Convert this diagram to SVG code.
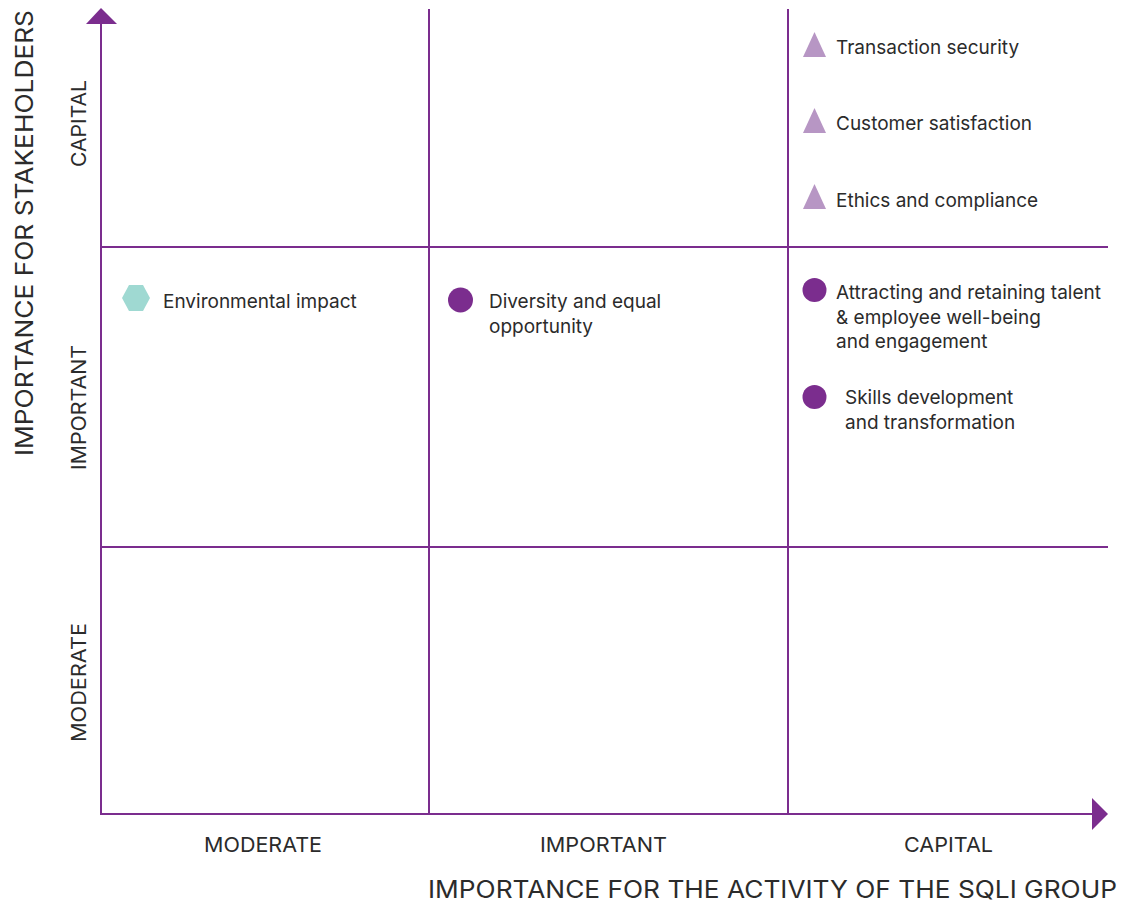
<svg xmlns="http://www.w3.org/2000/svg" width="1122" height="905" viewBox="0 0 1122 905">
<style>
.ax{stroke:#7B2D8E;stroke-width:2;fill:none}
.ah{fill:#7B2D8E}
.lbl{font-family:Inter,"Liberation Sans",sans-serif;font-size:19px;fill:#2b2b2b}
.cat{font-family:Inter,"Liberation Sans",sans-serif;font-size:20px;fill:#2b2b2b}
.ttl{font-family:Inter,"Liberation Sans",sans-serif;font-size:24px;fill:#2b2b2b}
.tri{fill:#B796C4}
.dot{fill:#7B2D8E}
.hex{fill:#9FD9D2}
</style>
<rect width="1122" height="905" fill="#ffffff"/>
<g id="connectors">
<line class="ax" x1="101" y1="815" x2="101" y2="22"/>
<line class="ax" x1="100" y1="814" x2="1094" y2="814"/>
<polygon class="ah" points="101,8 117,24 86,24"/>
<polygon class="ah" points="1108,814 1092,798 1092,830"/>
<line class="ax" x1="429" y1="9" x2="429" y2="814"/>
<line class="ax" x1="788" y1="9" x2="788" y2="814"/>
<line class="ax" x1="101" y1="247" x2="1108" y2="247"/>
<line class="ax" x1="101" y1="547" x2="1108" y2="547"/>
</g>
<g id="axis-labels">
<text class="cat" x="204" y="852" textLength="118" lengthAdjust="spacingAndGlyphs">MODERATE</text>
<text class="cat" x="540" y="852" textLength="127" lengthAdjust="spacingAndGlyphs">IMPORTANT</text>
<text class="cat" x="904" y="852" textLength="89" lengthAdjust="spacingAndGlyphs">CAPITAL</text>
<text class="cat" transform="translate(86,167) rotate(-90)" textLength="87" lengthAdjust="spacingAndGlyphs">CAPITAL</text>
<text class="cat" transform="translate(86,470) rotate(-90)" textLength="125" lengthAdjust="spacingAndGlyphs">IMPORTANT</text>
<text class="cat" transform="translate(86,742) rotate(-90)" textLength="119" lengthAdjust="spacingAndGlyphs">MODERATE</text>
<text class="ttl" x="428" y="898" textLength="689" lengthAdjust="spacingAndGlyphs">IMPORTANCE FOR THE ACTIVITY OF THE SQLI GROUP</text>
<text class="ttl" transform="translate(33,456) rotate(-90)" textLength="446" lengthAdjust="spacingAndGlyphs">IMPORTANCE FOR STAKEHOLDERS</text>
</g>
<g id="transaction-security">
<polygon class="tri" points="814.5,32 826,57 803,57"/>
<text class="lbl" x="836" y="54">Transaction security</text>
</g>
<g id="customer-satisfaction">
<polygon class="tri" points="814.5,108 826,133 803,133"/>
<text class="lbl" x="836" y="130">Customer satisfaction</text>
</g>
<g id="ethics-compliance">
<polygon class="tri" points="814.5,184 826,209 803,209"/>
<text class="lbl" x="836" y="207">Ethics and compliance</text>
</g>
<g id="environmental-impact">
<polygon class="hex" points="122,298 129,285 143,285 150,298 143,311 129,311"/>
<text class="lbl" x="163" y="308">Environmental impact</text>
</g>
<g id="diversity">
<circle class="dot" cx="460.5" cy="300" r="12.5"/>
<text class="lbl" x="489" y="308">Diversity and equal</text>
<text class="lbl" x="489" y="333">opportunity</text>
</g>
<g id="attracting-talent">
<circle class="dot" cx="814.5" cy="290" r="12"/>
<text class="lbl" x="836" y="299">Attracting and retaining talent</text>
<text class="lbl" x="836" y="324">&amp; employee well-being</text>
<text class="lbl" x="836" y="348">and engagement</text>
</g>
<g id="skills-development">
<circle class="dot" cx="814.5" cy="397" r="12"/>
<text class="lbl" x="845" y="404">Skills development</text>
<text class="lbl" x="845" y="429">and transformation</text>
</g>
</svg>
